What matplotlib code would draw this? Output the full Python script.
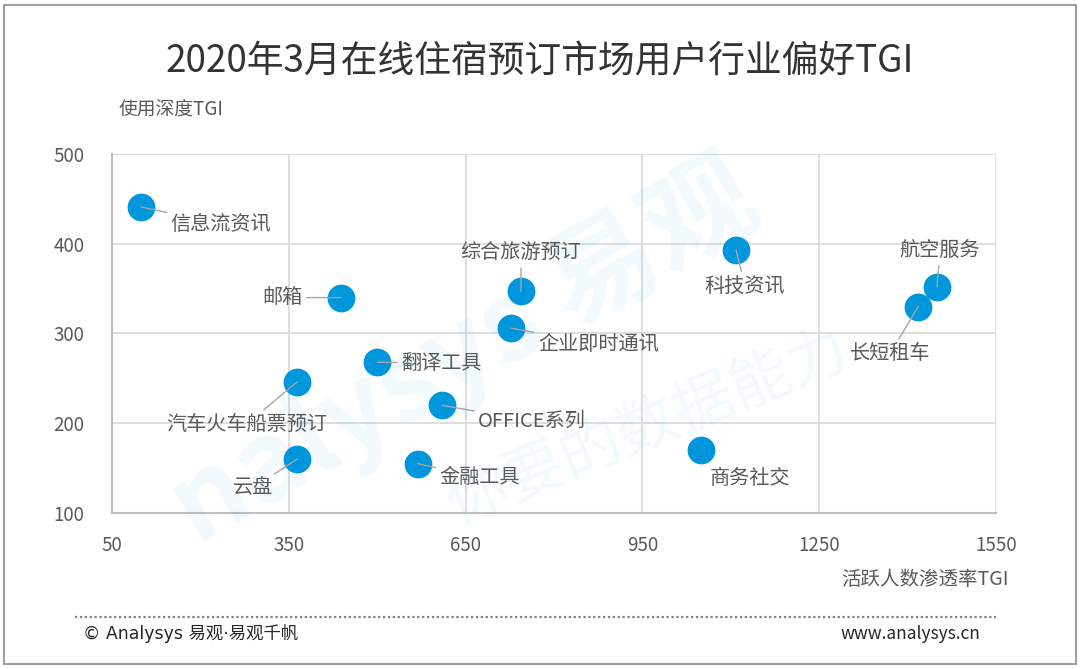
import matplotlib
matplotlib.use("Agg")
import matplotlib.pyplot as plt
from matplotlib.patches import Rectangle

plt.rcParams['font.family'] = ['Noto Sans CJK SC', 'DejaVu Sans']

# data
names = ['信息流资讯', '综合旅游预订', '邮箱', '企业即时通讯', '翻译工具', '汽车火车船票预订',
         'OFFICE系列', '云盘', '金融工具', '科技资讯', '商务社交', '航空服务', '长短租车']
penetration = [99, 744, 439, 727, 500, 364, 610, 364, 569, 1109, 1050, 1450, 1418]
depth = [441, 347, 340, 306, 268, 246, 220, 160, 155, 393, 170, 352, 330]
xticks = [50, 350, 650, 950, 1250, 1550]
yticks = [100, 200, 300, 400, 500]

# label placement (pixel offsets from the point, alignment, leader line)
label_pos = {
    '信息流资讯': (30, -17, 'left', True),
    '综合旅游预订': (0, 38, 'center', True),
    '邮箱': (-39, 0, 'right', True),
    '企业即时通讯': (27, -16, 'left', True),
    '翻译工具': (24, -1, 'left', True),
    '汽车火车船票预订': (-50, -42, 'center', True),
    'OFFICE系列': (36, -16, 'left', True),
    '云盘': (-24, -29, 'right', True),
    '金融工具': (22, -14, 'left', True),
    '科技资讯': (9, -36, 'center', True),
    '商务社交': (49, -28, 'center', False),
    '航空服务': (3, 36, 'center', True),
    '长短租车': (-28, -47, 'center', True),
}

blue = '#0096DC'
grey_txt = '#595959'

fig = plt.figure(figsize=(10.8, 6.69), dpi=100)
ax = fig.add_axes([0.1037, 0.2332, 0.8185, 0.5366])

# watermark
fig.text(0.43, 0.47, 'nalysys 易观', fontsize=80, color=blue, alpha=0.05,
         rotation=30, ha='center', va='center', fontweight='bold')
fig.text(0.60, 0.36, '你要的数据能力', fontsize=44, color=blue, alpha=0.05,
         rotation=22, ha='center', va='center')

ax.scatter(penetration, depth, s=400, color=blue, zorder=3, linewidths=0)

for n, x, y in zip(names, penetration, depth):
    dx, dy, ha, line = label_pos[n]
    ap = dict(arrowstyle='-', color='#a6a6a6', lw=1.0, shrinkA=1, shrinkB=0) if line else None
    ax.annotate(n, xy=(x, y), xytext=(dx, dy), textcoords='offset pixels',
                ha=ha, va='center', fontsize=14.5, color=grey_txt,
                arrowprops=ap, zorder=4)

ax.set_xlim(50, 1550)
ax.set_ylim(100, 500)
ax.set_xticks(xticks)
ax.set_yticks(yticks)
ax.grid(True, color='#d9d9d9', lw=1.2)
ax.set_axisbelow(True)
for s in ['top', 'right']:
    ax.spines[s].set_visible(False)
for s in ['left', 'bottom']:
    ax.spines[s].set_color('#bfbfbf')
    ax.spines[s].set_linewidth(1.5)
ax.tick_params(length=0, labelsize=13.5, labelcolor=grey_txt)
ax.tick_params(axis='x', pad=16)
ax.tick_params(axis='y', pad=20)
ax.set_facecolor('none')

fig.text(0.5, 0.907, '2020年3月在线住宿预订市场用户行业偏好TGI', fontsize=26.5,
         color='#333333', ha='center', va='center')
fig.text(0.110, 0.835, '使用深度TGI', fontsize=13.5, color=grey_txt, ha='left', va='center')
fig.text(0.934, 0.134, '活跃人数渗透率TGI', fontsize=14, color=grey_txt, ha='right', va='center')

# footer
fig.add_artist(plt.Line2D([0.069, 0.922], [0.077, 0.077], transform=fig.transFigure,
                          color='#7f7f7f', lw=1.6, linestyle=(0, (1, 1.2))))
fig.text(0.077, 0.053, '© Analysys 易观·易观千帆', fontsize=12.5, color='#262626',
         family=['DejaVu Sans', 'Noto Sans CJK SC'], ha='left', va='center')
fig.text(0.908, 0.053, 'www.analysys.cn', fontsize=12.5, color='#262626',
         ha='right', va='center')

fig.add_artist(Rectangle((0.004, 0.007), 0.992, 0.986, transform=fig.transFigure,
                         fill=False, edgecolor='#a0a0a0', lw=1.5))

fig.savefig('out.png', dpi=100)
